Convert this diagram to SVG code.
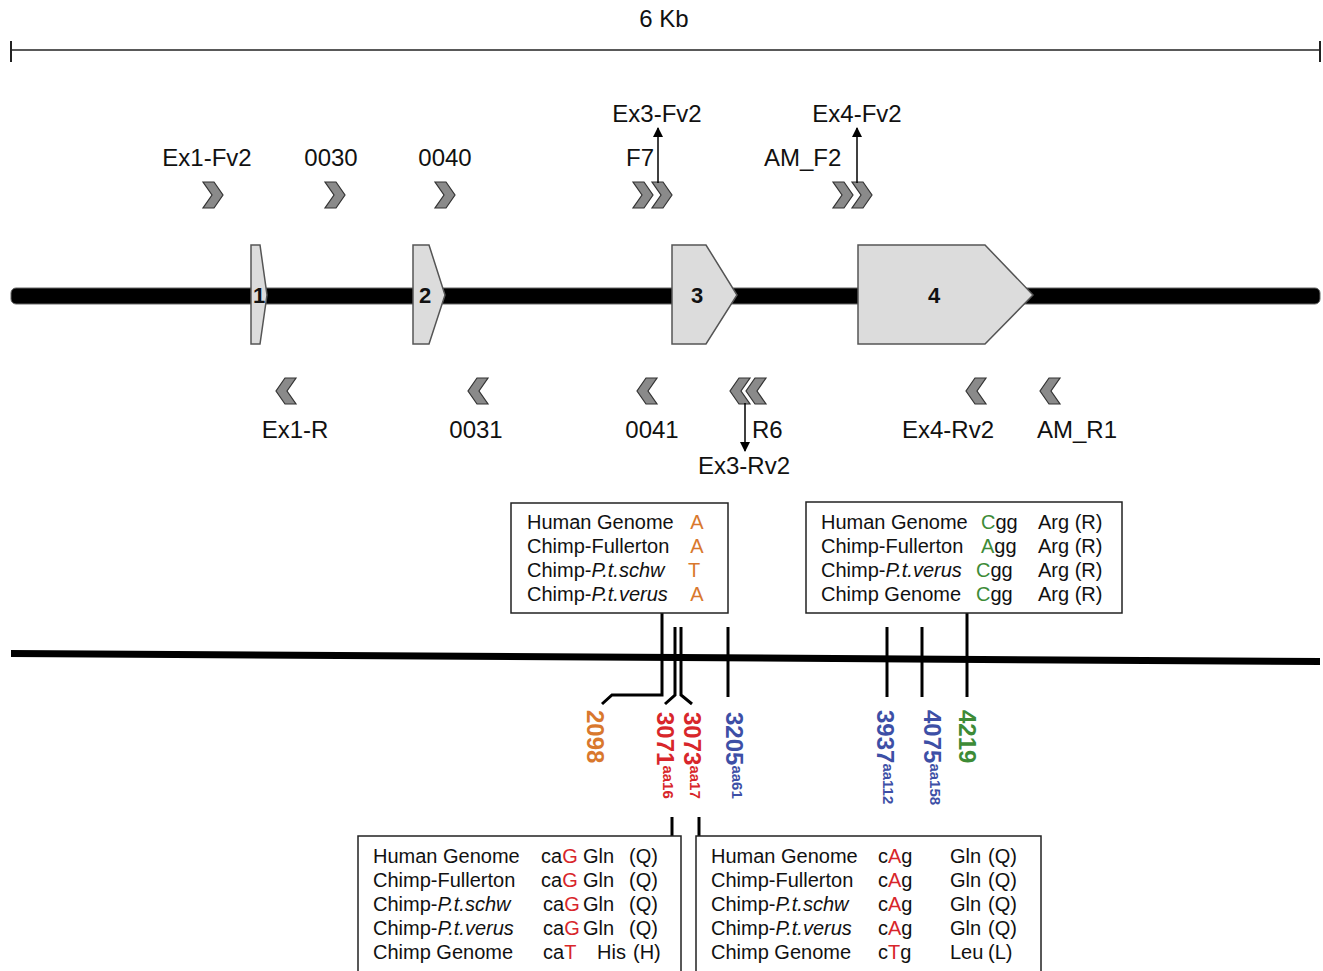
<svg xmlns="http://www.w3.org/2000/svg" width="1323" height="971" viewBox="0 0 1323 971">
<defs>
<style>
text{font-family:"Liberation Sans",Arial,sans-serif;fill:#111}
.lbl{font-size:24px}
.box{font-size:20px}
.ex{font-size:22px;font-weight:bold}
.num{font-size:24px;font-weight:bold}
.sub{font-size:15px;font-weight:bold}
.chev{fill:#8a8a8a;stroke:#333;stroke-width:1.2;stroke-linejoin:miter}
.exon{fill:#dcdcdc;stroke:#555;stroke-width:1.5}
.frame{fill:#fff;stroke:#222;stroke-width:1.5}
.tick{stroke:#000;stroke-width:3;fill:none}
.org{fill:#d9782d}
.grn{fill:#3d8b37}
.red{fill:#d8262b}
.blu{fill:#3d4fa6}
.it{font-style:italic}
</style>
<polygon id="fch" class="chev" points="0,0 11,0 20,13 11,26 0,26 9,13"/>
<polygon id="rch" class="chev" points="20,0 9,0 0,13 9,26 20,26 11,13"/>
<marker id="ah" viewBox="0 0 10 10" refX="9" refY="5" markerWidth="10" markerHeight="10" markerUnits="userSpaceOnUse" orient="auto">
<path d="M0,0 L10,5 L0,10 z" fill="#000"/>
</marker>
</defs>
<rect width="1323" height="971" fill="#fff"/>

<g id="scale">
<line x1="11" y1="50" x2="1320" y2="50" stroke="#222" stroke-width="1.5"/>
<line x1="11" y1="41" x2="11" y2="62" stroke="#222" stroke-width="2"/>
<line x1="1320" y1="41" x2="1320" y2="62" stroke="#222" stroke-width="2"/>
<text class="lbl" x="664" y="27" text-anchor="middle">6 Kb</text>
</g>

<g id="gene-line">
<rect x="11" y="288" width="1309" height="16" rx="5" fill="#000" stroke="#666" stroke-width="1"/>
</g>

<g id="exon1"><polygon class="exon" points="251,245 260,245 267,295 260,344 251,344"/><text class="ex" x="259" y="303" text-anchor="middle">1</text></g>
<g id="exon2"><polygon class="exon" points="413,245 429,245 445,295 429,344 413,344"/><text class="ex" x="425" y="303" text-anchor="middle">2</text></g>
<g id="exon3"><polygon class="exon" points="672,245 706,245 737,295 706,344 672,344"/><text class="ex" x="697" y="303" text-anchor="middle">3</text></g>
<g id="exon4"><polygon class="exon" points="858,245 985,245 1033,295 985,344 858,344"/><text class="ex" x="934" y="303" text-anchor="middle">4</text></g>

<g id="primer-Ex1-Fv2"><use href="#fch" x="203" y="182"/><text class="lbl" x="207" y="166" text-anchor="middle">Ex1-Fv2</text></g>
<g id="primer-0030"><use href="#fch" x="325" y="182"/><text class="lbl" x="331" y="166" text-anchor="middle">0030</text></g>
<g id="primer-0040"><use href="#fch" x="435" y="182"/><text class="lbl" x="445" y="166" text-anchor="middle">0040</text></g>
<g id="primer-F7"><use href="#fch" x="633" y="182"/><use href="#fch" x="652" y="182"/><text class="lbl" x="626" y="166">F7</text><text class="lbl" x="657" y="122" text-anchor="middle">Ex3-Fv2</text></g>
<g id="primer-AM_F2"><use href="#fch" x="833" y="182"/><use href="#fch" x="852" y="182"/><text class="lbl" x="764" y="166">AM_F2</text><text class="lbl" x="857" y="122" text-anchor="middle">Ex4-Fv2</text></g>

<g id="primer-Ex1-R"><use href="#rch" x="276" y="378"/><text class="lbl" x="295" y="438" text-anchor="middle">Ex1-R</text></g>
<g id="primer-0031"><use href="#rch" x="468" y="378"/><text class="lbl" x="476" y="438" text-anchor="middle">0031</text></g>
<g id="primer-0041"><use href="#rch" x="637" y="378"/><text class="lbl" x="652" y="438" text-anchor="middle">0041</text></g>
<g id="primer-R6"><use href="#rch" x="730" y="378"/><use href="#rch" x="746" y="378"/><text class="lbl" x="752" y="438">R6</text><text class="lbl" x="744" y="474" text-anchor="middle">Ex3-Rv2</text></g>
<g id="primer-Ex4-Rv2"><use href="#rch" x="966" y="378"/><text class="lbl" x="948" y="438" text-anchor="middle">Ex4-Rv2</text></g>
<g id="primer-AM_R1"><use href="#rch" x="1040" y="378"/><text class="lbl" x="1077" y="438" text-anchor="middle">AM_R1</text></g>

<g id="connectors">
<line x1="658" y1="183" x2="658" y2="128" stroke="#000" stroke-width="1.5" marker-end="url(#ah)"/>
<line x1="857" y1="183" x2="857" y2="128" stroke="#000" stroke-width="1.5" marker-end="url(#ah)"/>
<line x1="745" y1="403" x2="745" y2="451" stroke="#000" stroke-width="1.5" marker-end="url(#ah)"/>
<path class="tick" d="M662,613 V695 H612 L602,704"/>
<path class="tick" d="M675,627 V695 L665,704"/>
<path class="tick" d="M681,627 V695 L692,704"/>
<path class="tick" d="M728,627 V697"/>
<path class="tick" d="M887,627 V697"/>
<path class="tick" d="M922,627 V697"/>
<path class="tick" d="M967,613 V697"/>
<path class="tick" d="M672,817 V837"/>
<path class="tick" d="M699,817 V837"/>
</g>

<g id="seq-line">
<line x1="11" y1="653.5" x2="1320" y2="661.5" stroke="#000" stroke-width="7"/>
</g>

<g id="box-2098">
<rect class="frame" x="511" y="503" width="217" height="110"/>
<text class="box" x="527" y="529">Human Genome</text><text class="box org" x="697" y="529" text-anchor="middle">A</text>
<text class="box" x="527" y="553">Chimp-Fullerton</text><text class="box org" x="697" y="553" text-anchor="middle">A</text>
<text class="box" x="527" y="577">Chimp-<tspan class="it">P.t.schw</tspan></text><text class="box org" x="694" y="577" text-anchor="middle">T</text>
<text class="box" x="527" y="601">Chimp-<tspan class="it">P.t.verus</tspan></text><text class="box org" x="697" y="601" text-anchor="middle">A</text>
</g>

<g id="box-4219">
<rect class="frame" x="806" y="502" width="316" height="111"/>
<text class="box" x="821" y="529">Human Genome</text><text class="box" x="981" y="529"><tspan class="grn">C</tspan>gg</text><text class="box" x="1038" y="529">Arg (R)</text>
<text class="box" x="821" y="553">Chimp-Fullerton</text><text class="box" x="981" y="553"><tspan class="grn">A</tspan>gg</text><text class="box" x="1038" y="553">Arg (R)</text>
<text class="box" x="821" y="577">Chimp-<tspan class="it">P.t.verus</tspan></text><text class="box" x="976" y="577"><tspan class="grn">C</tspan>gg</text><text class="box" x="1038" y="577">Arg (R)</text>
<text class="box" x="821" y="601">Chimp Genome</text><text class="box" x="976" y="601"><tspan class="grn">C</tspan>gg</text><text class="box" x="1038" y="601">Arg (R)</text>
</g>

<g id="pos-2098"><text class="num org" transform="translate(587,710) rotate(90)">2098</text></g>
<g id="pos-3071"><text class="num red" transform="translate(657,712) rotate(90)">3071<tspan class="sub" dy="-6">aa16</tspan></text></g>
<g id="pos-3073"><text class="num red" transform="translate(684,712) rotate(90)">3073<tspan class="sub" dy="-6">aa17</tspan></text></g>
<g id="pos-3205"><text class="num blu" transform="translate(726,712) rotate(90)">3205<tspan class="sub" dy="-6">aa61</tspan></text></g>
<g id="pos-3937"><text class="num blu" transform="translate(877,710) rotate(90)">3937<tspan class="sub" dy="-6">aa112</tspan></text></g>
<g id="pos-4075"><text class="num blu" transform="translate(924,710) rotate(90)">4075<tspan class="sub" dy="-6">aa158</tspan></text></g>
<g id="pos-4219"><text class="num grn" transform="translate(959,710) rotate(90)">4219</text></g>

<g id="box-3071">
<rect class="frame" x="358" y="836" width="323" height="150"/>
<text class="box" x="373" y="863">Human Genome</text><text class="box" x="541" y="863">ca<tspan class="red">G</tspan></text><text class="box" x="583" y="863">Gln</text><text class="box" x="629" y="863">(Q)</text>
<text class="box" x="373" y="887">Chimp-Fullerton</text><text class="box" x="541" y="887">ca<tspan class="red">G</tspan></text><text class="box" x="583" y="887">Gln</text><text class="box" x="629" y="887">(Q)</text>
<text class="box" x="373" y="911">Chimp-<tspan class="it">P.t.schw</tspan></text><text class="box" x="543" y="911">ca<tspan class="red">G</tspan></text><text class="box" x="583" y="911">Gln</text><text class="box" x="629" y="911">(Q)</text>
<text class="box" x="373" y="935">Chimp-<tspan class="it">P.t.verus</tspan></text><text class="box" x="543" y="935">ca<tspan class="red">G</tspan></text><text class="box" x="583" y="935">Gln</text><text class="box" x="629" y="935">(Q)</text>
<text class="box" x="373" y="959">Chimp Genome</text><text class="box" x="543" y="959">ca<tspan class="red">T</tspan></text><text class="box" x="597" y="959">His</text><text class="box" x="633" y="959">(H)</text>
</g>

<g id="box-3073">
<rect class="frame" x="696" y="836" width="345" height="150"/>
<text class="box" x="711" y="863">Human Genome</text><text class="box" x="878" y="863">c<tspan class="red">A</tspan>g</text><text class="box" x="950" y="863">Gln</text><text class="box" x="988" y="863">(Q)</text>
<text class="box" x="711" y="887">Chimp-Fullerton</text><text class="box" x="878" y="887">c<tspan class="red">A</tspan>g</text><text class="box" x="950" y="887">Gln</text><text class="box" x="988" y="887">(Q)</text>
<text class="box" x="711" y="911">Chimp-<tspan class="it">P.t.schw</tspan></text><text class="box" x="878" y="911">c<tspan class="red">A</tspan>g</text><text class="box" x="950" y="911">Gln</text><text class="box" x="988" y="911">(Q)</text>
<text class="box" x="711" y="935">Chimp-<tspan class="it">P.t.verus</tspan></text><text class="box" x="878" y="935">c<tspan class="red">A</tspan>g</text><text class="box" x="950" y="935">Gln</text><text class="box" x="988" y="935">(Q)</text>
<text class="box" x="711" y="959">Chimp Genome</text><text class="box" x="878" y="959">c<tspan class="red">T</tspan>g</text><text class="box" x="950" y="959">Leu</text><text class="box" x="988" y="959">(L)</text>
</g>
</svg>
